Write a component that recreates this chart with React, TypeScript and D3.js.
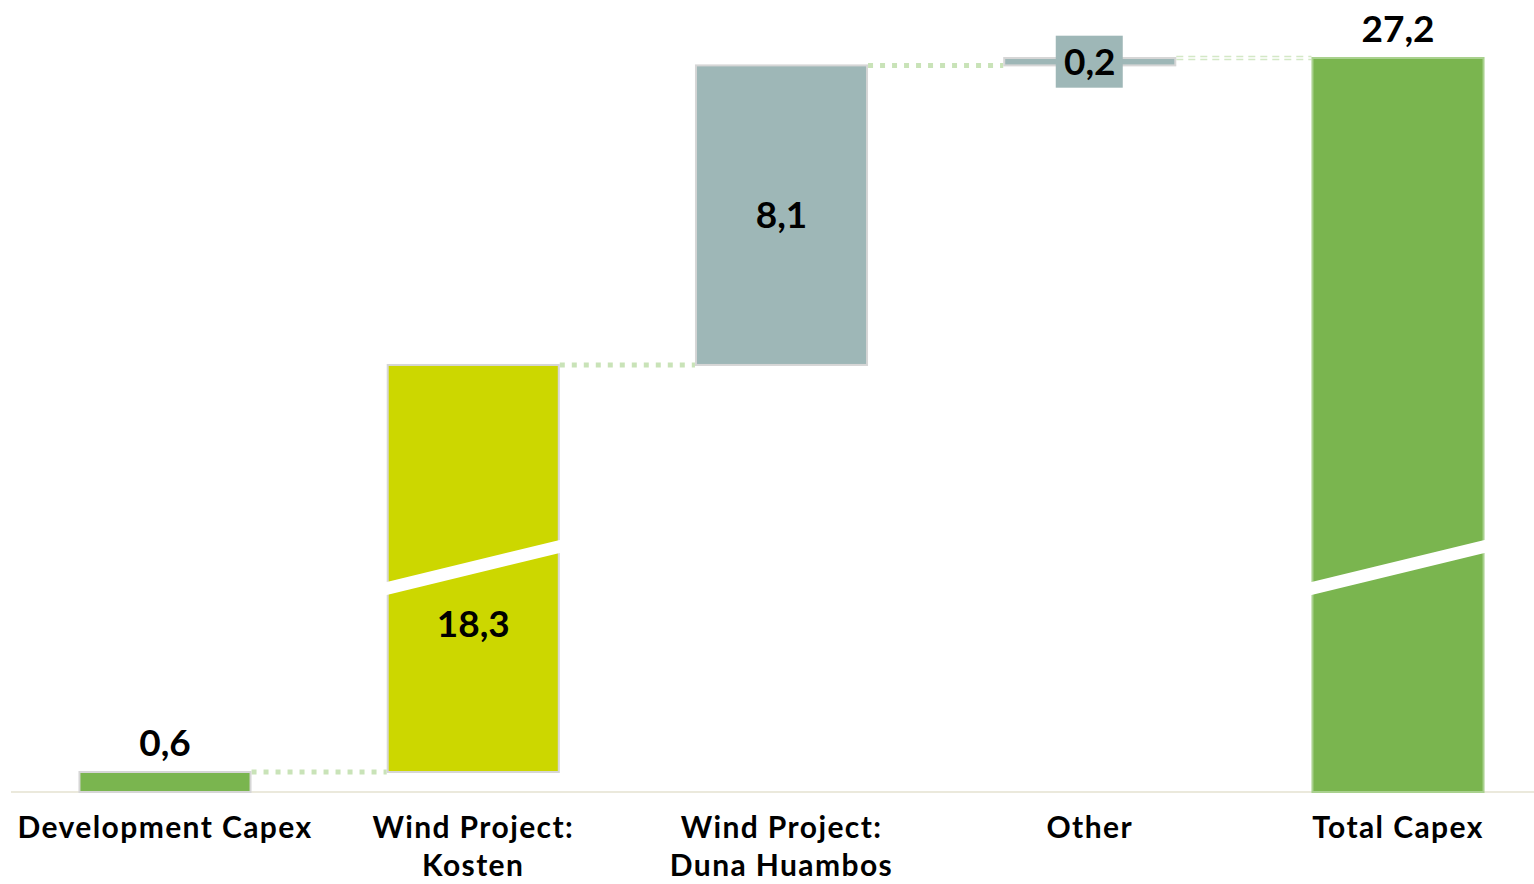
import * as d3 from "d3";

const categories = ["Development Capex", "Wind Project: Kosten", "Wind Project: Duna Huambos", "Other", "Total Capex"];
const categoryLines = [["Development Capex"], ["Wind Project:", "Kosten"], ["Wind Project:", "Duna Huambos"], ["Other"], ["Total Capex"]];
const values = [0.6, 18.3, 8.1, 0.2, 27.2];
const valueLabels = ["0,6", "18,3", "8,1", "0,2", "27,2"];
const isTotal = [false, false, false, false, true];
const barColors = ["#7ab54f", "#ccd700", "#9eb7b7", "#9eb7b7", "#7ab54f"];
const borderColors = ["#d6d6d6", "#d6d6d6", "#d6d6d6", "#d6d6d6", "#a9d18e"];
const broken = [false, true, false, false, true];

// axis break (value range hidden between these)
const breakLo = 6.72;
const breakHi = 13.41;

function App() {
    const width = 1534;
    const height = 884;
    const baseY = 792;
    const breakY = 568;
    const font = "Lato, 'Open Sans', sans-serif";

    const xScale = d3.scalePoint<string>().domain(categories).range([165, 1398]);
    const barW = xScale.step() * 0.555;

    const yScale = d3.scaleLinear().domain([0, breakLo, breakHi, 27.2]).range([baseY, breakY, breakY, 58]);

    // waterfall start/end
    let running = 0;
    const bars = categories.map((c, i) => {
        const start = isTotal[i] ? 0 : running;
        const end = isTotal[i] ? values[i] : running + values[i];
        if (!isTotal[i]) running = end;
        return { c, i, start, end };
    });

    return (
        <svg width={width} height={height} style={{ position: "absolute", left: 0, top: 0, background: "#ffffff" }}>
            {/* baseline */}
            <line x1={11} x2={width} y1={baseY} y2={baseY} stroke="#ebe9dc" strokeWidth={2} />

            {/* connectors */}
            {bars.slice(0, -1).map((b, i) => {
                const x1 = xScale(b.c)! + barW / 2 + 1;
                const x2 = xScale(bars[i + 1].c)! - barW / 2 - 1;
                const y = yScale(b.end);
                if (i === bars.length - 2) {
                    return (
                        <g key={b.c}>
                            <line x1={x1} x2={x2} y1={y - 1.5} y2={y - 1.5} stroke="#d3e8c5" strokeWidth={1.5} strokeDasharray="7 5" />
                            <line x1={x1} x2={x2} y1={y + 1.5} y2={y + 1.5} stroke="#d3e8c5" strokeWidth={1.5} strokeDasharray="7 5" />
                        </g>
                    );
                }
                return <line key={b.c} x1={x1} x2={x2} y1={y} y2={y} stroke="#c9e3b8" strokeWidth={5} strokeDasharray="5 7" />;
            })}

            {/* bars */}
            {bars.map((b) => {
                const x0 = xScale(b.c)! - barW / 2;
                const yTop = yScale(Math.max(b.start, b.end));
                const yBot = yScale(Math.min(b.start, b.end));
                return (
                    <g key={b.c}>
                        <rect x={x0} y={yTop} width={barW} height={yBot - yTop} fill={barColors[b.i]} stroke={borderColors[b.i]} strokeWidth={2} />
                        {broken[b.i] && (
                            <polygon
                                points={[
                                    [x0 - 3, breakY + 21 - 6.5],
                                    [x0 + barW + 3, breakY - 21 - 6.5 - 1],
                                    [x0 + barW + 3, breakY - 21 + 6.5 - 1],
                                    [x0 - 3, breakY + 21 + 6.5],
                                ].map((p) => p.join(",")).join(" ")}
                                fill="#ffffff"
                            />
                        )}
                    </g>
                );
            })}

            {/* value labels */}
            {bars.map((b) => {
                const cx = xScale(b.c)!;
                const yTop = yScale(Math.max(b.start, b.end));
                const yBot = yScale(Math.min(b.start, b.end));
                const style = { fontFamily: font, fontWeight: 700, fontSize: 37 };
                if (b.i === 0 || isTotal[b.i]) {
                    return <text key={b.c} x={cx} y={yTop - 16} textAnchor="middle" style={style}>{valueLabels[b.i]}</text>;
                }
                if (yBot - yTop < 20) {
                    const yc = (yTop + yBot) / 2;
                    return (
                        <g key={b.c}>
                            <rect x={cx - 34} y={yc - 26} width={67} height={52} fill={barColors[b.i]} />
                            <text x={cx} y={yc} dy="0.36em" textAnchor="middle" style={style}>{valueLabels[b.i]}</text>
                        </g>
                    );
                }
                const yc = (yTop + yBot) / 2 + (broken[b.i] ? 55 : 0);
                return <text key={b.c} x={cx} y={yc} dy="0.36em" textAnchor="middle" style={style}>{valueLabels[b.i]}</text>;
            })}

            {/* category labels */}
            {categories.map((c, i) => (
                <text key={c} x={xScale(c)!} y={838} textAnchor="middle" style={{ fontFamily: font, fontWeight: 700, fontSize: 30, letterSpacing: 1.4 }}>
                    {categoryLines[i].map((line, j) => (
                        <tspan key={line} x={xScale(c)!} dy={j === 0 ? 0 : 38}>{line}</tspan>
                    ))}
                </text>
            ))}
        </svg>
    );
}

export default App;
